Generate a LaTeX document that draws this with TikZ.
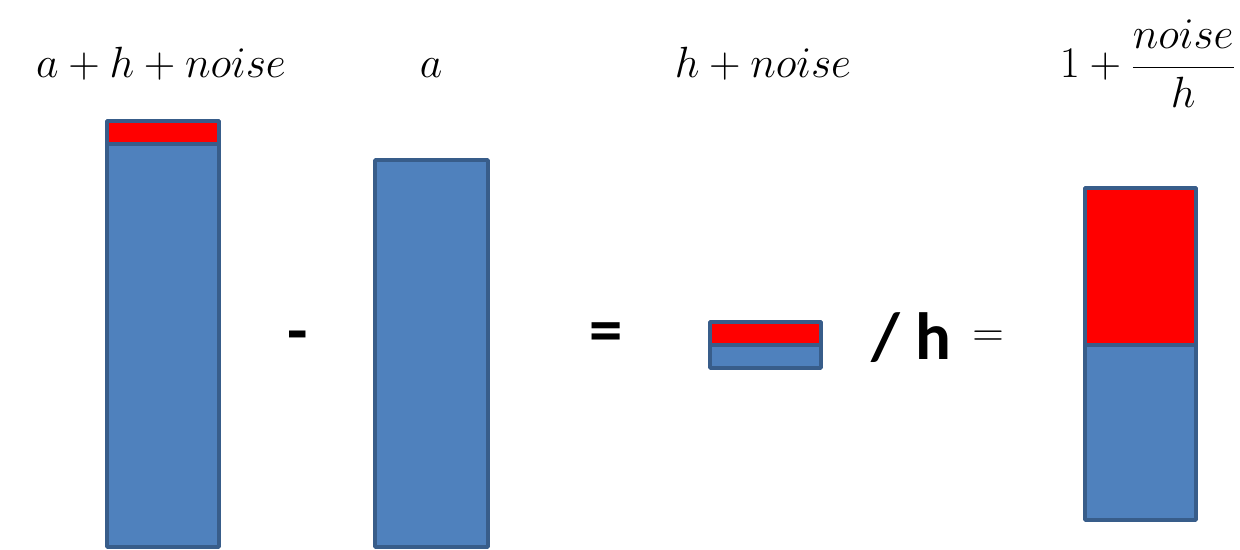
\documentclass[tikz,border=0pt]{standalone}
\usepackage{fontspec}
\newfontfamily\calibri{Carlito}
\definecolor{barblue}{HTML}{4F81BD}
\definecolor{barline}{HTML}{385D8A}
\definecolor{barred}{HTML}{FF0000}
\tikzset{
    bar/.style={fill=barblue, draw=barline, line width=2.2pt, rounded corners=0.5pt},
    redpart/.style={fill=barred, draw=barline, line width=2.2pt, rounded corners=0.5pt},
    mathlabel/.style={font=\fontsize{33}{40}\selectfont, inner sep=0pt},
    fraclabel/.style={font=\fontsize{28}{34}\selectfont, inner sep=0pt},
    oplabel/.style={font=\fontsize{38}{44}\selectfont\calibri\bfseries, inner sep=0pt}
}
\begin{document}
\begin{tikzpicture}[x=0.02cm, y=-0.02cm]
    \useasboundingbox (0,0) rectangle (1240,550);
    % Bars
    \draw[bar] (107,121) rectangle (219,547);
    \draw[redpart] (107,121) rectangle (219,144);
    \draw[bar] (375,160) rectangle (488,547);
    \draw[bar] (710,322) rectangle (821,368);
    \draw[redpart] (710,322) rectangle (821,345);
    \draw[bar] (1085,188) rectangle (1196,520);
    \draw[redpart] (1085,188) rectangle (1196,345);
    % Labels above the bars
    \node[mathlabel, anchor=base] (lsum) at (161,78) {$a+h+noise$};
    \node[mathlabel, anchor=base] (la) at (431,78) {$a$};
    \node[mathlabel, anchor=base] (lhn) at (763,78) {$h+noise$};
    \node[fraclabel, anchor=base east] (lratio) at (1236,78) {$\displaystyle 1+\frac{noise}{h}$};
    % Operators
    \node[oplabel] (minus) at (298,342) {-};
    \node[oplabel] (equal) at (606,338) {=};
    \node[oplabel] (divh) at (911,338) {/ h};
    \node[mathlabel, font=\fontsize{40}{46}\selectfont] (equalb) at (988,339) {$=$};
\end{tikzpicture}
\end{document}
